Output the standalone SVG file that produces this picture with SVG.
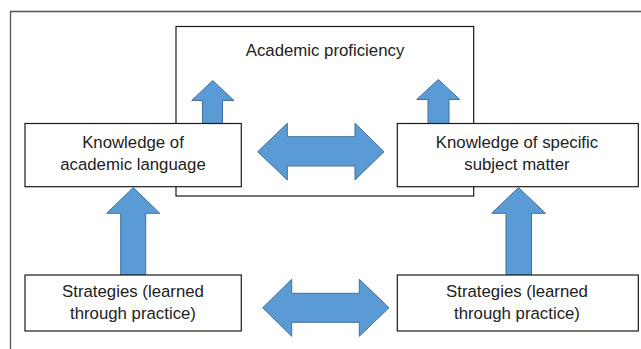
<svg xmlns="http://www.w3.org/2000/svg" width="641" height="349" viewBox="0 0 641 349">
<style>
.box{fill:#fff;stroke:#1a1a1a;stroke-width:1.2}
.arr{fill:#5B9BD5;stroke:#41719C;stroke-width:1}
.t{font-family:"Liberation Sans",Arial,sans-serif;font-size:16.8px;fill:#222;text-anchor:middle}
</style>
<rect width="641" height="349" fill="#fff"/>
<path d="M10.5 349 V11.5 H641" fill="none" stroke="#555" stroke-width="1.3"/>
<g id="academic-proficiency">
<rect class="box" x="176" y="26.5" width="297.7" height="169.5"/>
<text class="t" x="325" y="56">Academic proficiency</text>
</g>
<g id="connectors">
<path class="arr" d="M212.7 80.5 L234 100.5 H222.5 V123.5 H202.5 V100.5 H191.7 Z"/>
<path class="arr" d="M438.3 79.5 L459.8 99.5 H449 V123.5 H428 V99.5 H416.7 Z"/>
<path class="arr" d="M133.3 187.5 L159.8 213.3 H145.7 V275 H120.7 V213.3 H106.7 Z"/>
<path class="arr" d="M518.5 187.5 L545.5 213.3 H531.5 V275 H506 V213.3 H491.7 Z"/>
<path class="arr" d="M257.7 151.7 L287.3 123.3 V136.7 H355 V123.3 L384 151.7 L355 180 V166 H287.3 V180 Z"/>
<path class="arr" d="M262.7 307.7 L291.7 279.3 V293.3 H359.3 V279.3 L389 307.7 L359.3 336.3 V322.3 H291.7 V336.3 Z"/>
</g>
<g id="knowledge-academic-language">
<rect class="box" x="25" y="123.5" width="216.3" height="63.2"/>
<text class="t" x="133" y="147.7">Knowledge of</text>
<text class="t" x="133" y="170">academic language</text>
</g>
<g id="knowledge-subject-matter">
<rect class="box" x="397.3" y="123.5" width="241" height="63.2"/>
<text class="t" x="517" y="147.7">Knowledge of specific</text>
<text class="t" x="517" y="170">subject matter</text>
</g>
<g id="strategies-left">
<rect class="box" x="25" y="275" width="216.3" height="56"/>
<text class="t" x="133" y="296.5">Strategies (learned</text>
<text class="t" x="133" y="319">through practice)</text>
</g>
<g id="strategies-right">
<rect class="box" x="397.3" y="275" width="241" height="56"/>
<text class="t" x="517" y="296.5">Strategies (learned</text>
<text class="t" x="517" y="319">through practice)</text>
</g>
</svg>
